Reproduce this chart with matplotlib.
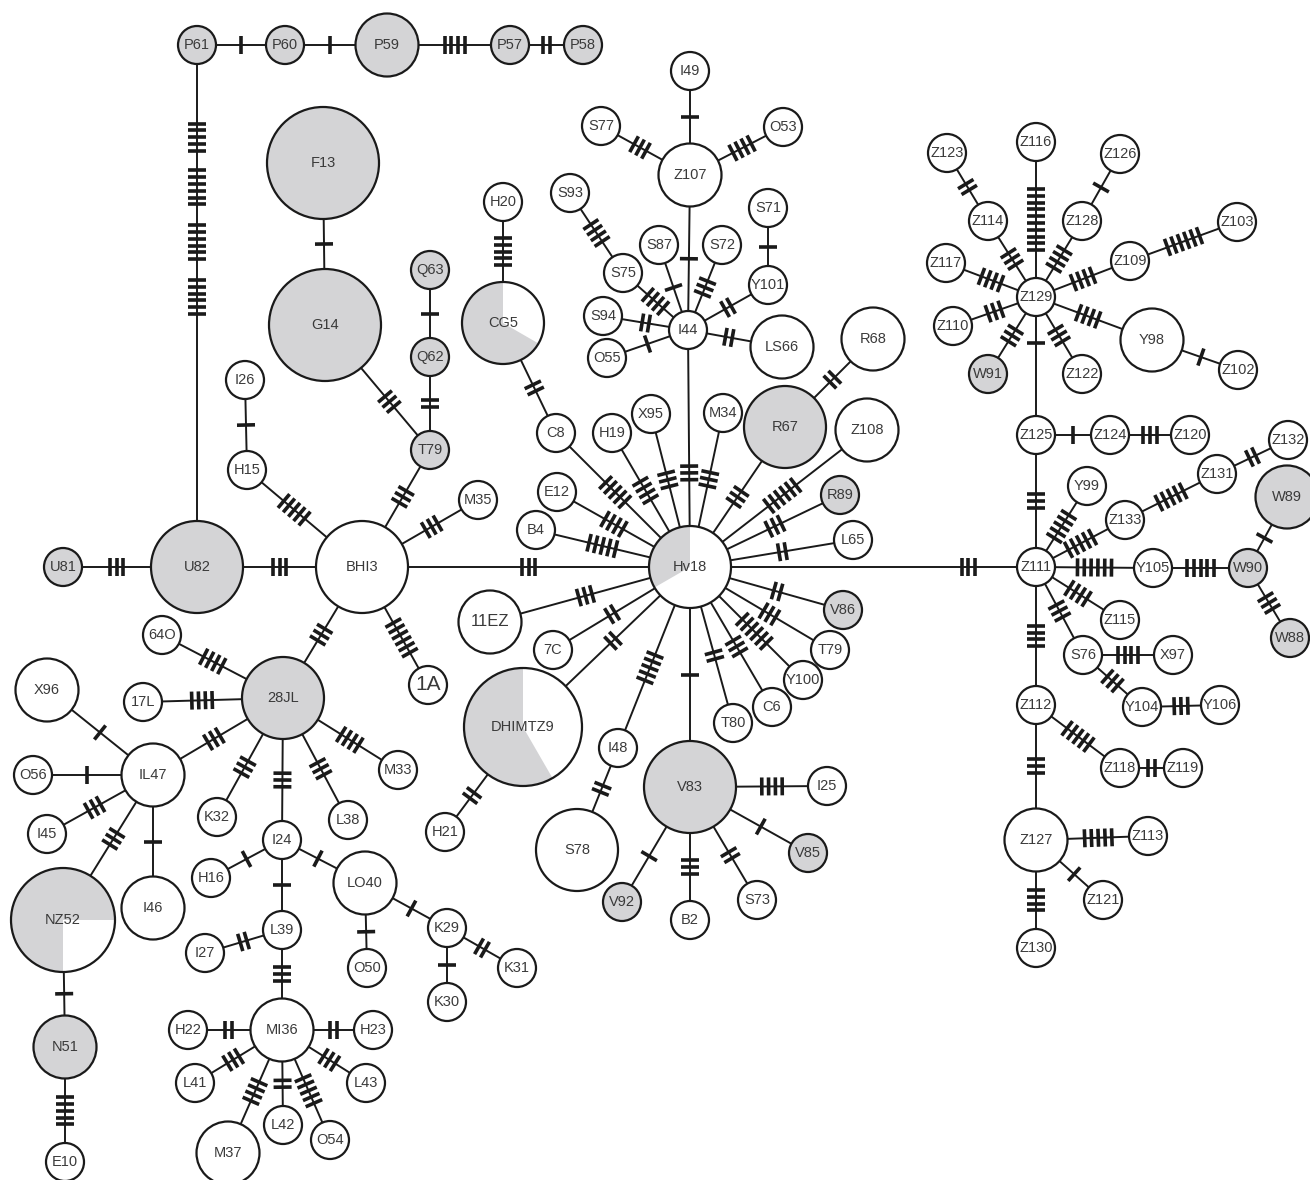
import numpy as np
import matplotlib
matplotlib.use("Agg")
import matplotlib.pyplot as plt
from matplotlib.patches import Circle, Wedge

# haplotype labels and display names (two separate haplotypes are both called T79)
labels = {"T79b": "T79"}

# node size class: s / m / l / xl, or an explicit radius
size_class = {
    "P59": "m", "X96": "m", "IL47": "m", "I46": "m", "N51": "m", "LO40": "m",
    "MI36": "m", "M37": "m", "11EZ": "m", "Z107": "m", "LS66": "m", "R68": "m",
    "Z108": "m", "Y98": "m", "Z127": "m", "W89": "m",
    "CG5": "l", "R67": "l", "28JL": "l", "Hv18": "l", "S78": "l",
    "BHI3": "xl", "U82": "xl", "V83": "xl",
    "NZ52": 52, "DHIMTZ9": 59, "F13": 56, "G14": 56,
}
radius_of = {"s": 19, "m": 31.5, "l": 41, "xl": 46}

# grey share of each haplotype: (share, start angle in degrees)
grey_share = {
    "P61": (1, 0), "P60": (1, 0), "P59": (1, 0), "P57": (1, 0), "P58": (1, 0),
    "F13": (1, 0), "G14": (1, 0), "Q63": (1, 0), "Q62": (1, 0), "T79": (1, 0),
    "U81": (1, 0), "U82": (1, 0), "28JL": (1, 0), "N51": (1, 0),
    "R67": (1, 0), "R89": (1, 0), "V86": (1, 0), "V83": (1, 0), "V85": (1, 0),
    "V92": (1, 0), "W91": (1, 0), "W89": (1, 0), "W90": (1, 0), "W88": (1, 0),
    "Hv18": (1 / 3, 90), "CG5": (2 / 3, 90), "DHIMTZ9": (7 / 12, 90),
    "NZ52": (3 / 4, 0),
}

# network layout (pixel positions, y downwards)
pos = {
    "P61": (197, 45), "P60": (285, 45), "P59": (387, 45), "P57": (510, 45), "P58": (583, 45),
    "F13": (323, 163), "G14": (325, 325), "Q63": (430, 270), "Q62": (430, 357),
    "T79": (430, 450), "I26": (245, 380), "H15": (247, 470), "BHI3": (362, 567),
    "U82": (197, 567), "U81": (63, 567), "M35": (478, 500), "1A": (428, 685),
    "28JL": (283, 698), "64O": (162, 635), "17L": (143, 702), "IL47": (153, 775),
    "X96": (47, 690), "O56": (33, 775), "I45": (47, 834), "I46": (153, 908),
    "NZ52": (63, 920), "N51": (65, 1047), "E10": (65, 1162),
    "K32": (217, 817), "I24": (282, 840), "L38": (348, 820), "M33": (398, 770),
    "H16": (211, 878), "LO40": (365, 883), "L39": (282, 930), "O50": (367, 968),
    "K29": (447, 928), "K30": (447, 1002), "K31": (517, 968), "I27": (205, 953),
    "MI36": (282, 1030), "H22": (188, 1030), "H23": (373, 1030), "L41": (195, 1083),
    "M37": (228, 1153), "L42": (283, 1125), "O54": (330, 1140), "L43": (366, 1083),
    "Hv18": (690, 567), "CG5": (503, 323), "DHIMTZ9": (523, 727), "H20": (503, 202),
    "C8": (556, 433), "H19": (612, 433), "X95": (651, 414), "I44": (688, 330),
    "M34": (723, 413), "R67": (785, 427), "R68": (873, 339), "Z108": (867, 430),
    "R89": (840, 495), "L65": (853, 540), "V86": (843, 610), "T79b": (830, 650),
    "Y100": (803, 680), "C6": (772, 707), "T80": (733, 723), "V83": (690, 787),
    "I48": (618, 748), "S78": (577, 850), "H21": (445, 832), "7C": (553, 650),
    "11EZ": (490, 622), "B4": (536, 530), "E12": (557, 492),
    "I25": (827, 786), "V85": (808, 853), "S73": (757, 900), "B2": (690, 920),
    "V92": (622, 902),
    "Z107": (690, 175), "I49": (690, 71), "S77": (601, 126), "O53": (783, 127),
    "S93": (570, 193), "S75": (623, 273), "S87": (659, 245), "S72": (722, 245),
    "S71": (768, 208), "Y101": (768, 285), "S94": (603, 316), "O55": (607, 358),
    "LS66": (782, 347),
    "Z129": (1036, 297), "Z116": (1036, 142), "Z123": (947, 153), "Z114": (988, 221),
    "Z126": (1120, 154), "Z128": (1082, 221), "Z103": (1237, 222), "Z109": (1130, 261),
    "Z117": (946, 263), "Z110": (953, 326), "W91": (988, 374), "Z122": (1082, 374),
    "Y98": (1152, 340), "Z102": (1238, 370), "Z125": (1036, 435), "Z124": (1110, 435),
    "Z120": (1190, 435), "Z111": (1036, 567), "Y99": (1087, 486), "Z133": (1125, 520),
    "Z131": (1217, 474), "Z132": (1288, 440), "Y105": (1153, 568), "W90": (1248, 568),
    "W89": (1287, 497), "W88": (1290, 638), "Z115": (1120, 620), "S76": (1083, 655),
    "X97": (1173, 655), "Y104": (1142, 707), "Y106": (1220, 705), "Z112": (1036, 705),
    "Z118": (1120, 768), "Z119": (1183, 768), "Z127": (1036, 840), "Z113": (1148, 836),
    "Z121": (1103, 900), "Z130": (1036, 948),
}

# links between haplotypes with number of mutational steps
edges = [
    ("P61", "P60", 1), ("P60", "P59", 1), ("P59", "P57", 4), ("P57", "P58", 2),
    ("F13", "G14", 1), ("G14", "T79", 3), ("Q63", "Q62", 1), ("Q62", "T79", 2),
    ("T79", "BHI3", 3), ("I26", "H15", 1), ("H15", "BHI3", 5), ("U81", "U82", 3),
    ("U82", "BHI3", 3), ("BHI3", "M35", 3), ("BHI3", "1A", 6), ("BHI3", "Hv18", 3),
    ("BHI3", "28JL", 3), ("64O", "28JL", 4), ("17L", "28JL", 4), ("28JL", "IL47", 3),
    ("X96", "IL47", 1), ("O56", "IL47", 1), ("I45", "IL47", 3), ("IL47", "NZ52", 3),
    ("IL47", "I46", 1), ("NZ52", "N51", 1), ("N51", "E10", 5),
    ("28JL", "K32", 3), ("28JL", "I24", 3), ("28JL", "L38", 3), ("28JL", "M33", 4),
    ("I24", "H16", 1), ("I24", "LO40", 1), ("I24", "L39", 1), ("LO40", "O50", 1),
    ("LO40", "K29", 1), ("K29", "K30", 1), ("K29", "K31", 2), ("L39", "I27", 2),
    ("L39", "MI36", 3), ("MI36", "H22", 2), ("MI36", "H23", 2), ("MI36", "L41", 3),
    ("MI36", "M37", 4), ("MI36", "L42", 2), ("MI36", "O54", 5), ("MI36", "L43", 3),
    ("H20", "CG5", 5), ("CG5", "C8", 2), ("C8", "Hv18", 5), ("H19", "Hv18", 4),
    ("X95", "Hv18", 3), ("Hv18", "I44", 3), ("M34", "Hv18", 3), ("R67", "Hv18", 3),
    ("R67", "R68", 2), ("Z108", "Hv18", 6), ("R89", "Hv18", 3), ("L65", "Hv18", 2),
    ("V86", "Hv18", 2), ("T79b", "Hv18", 3), ("Y100", "Hv18", 6), ("C6", "Hv18", 3),
    ("T80", "Hv18", 2), ("Hv18", "V83", 1), ("I48", "Hv18", 5), ("I48", "S78", 2),
    ("DHIMTZ9", "Hv18", 2), ("DHIMTZ9", "H21", 2), ("7C", "Hv18", 2),
    ("11EZ", "Hv18", 3), ("B4", "Hv18", 5), ("E12", "Hv18", 4),
    ("V83", "I25", 4), ("V83", "V85", 1), ("V83", "S73", 2), ("V83", "B2", 3),
    ("V83", "V92", 1),
    ("I44", "Z107", 1), ("Z107", "I49", 1), ("Z107", "S77", 3), ("Z107", "O53", 4),
    ("S93", "S75", 4), ("S75", "I44", 4), ("S87", "I44", 1), ("S72", "I44", 3),
    ("S71", "Y101", 1), ("Y101", "I44", 2), ("S94", "I44", 2), ("O55", "I44", 1),
    ("I44", "LS66", 2),
    ("Z129", "Z116", 10), ("Z123", "Z114", 2), ("Z114", "Z129", 3), ("Z126", "Z128", 1),
    ("Z128", "Z129", 4), ("Z103", "Z109", 6), ("Z109", "Z129", 4), ("Z117", "Z129", 4),
    ("Z110", "Z129", 3), ("W91", "Z129", 3), ("Z122", "Z129", 3), ("Z129", "Y98", 4),
    ("Y98", "Z102", 1), ("Z129", "Z125", 1), ("Z125", "Z124", 1), ("Z124", "Z120", 3),
    ("Z125", "Z111", 3), ("Hv18", "Z111", 3), ("Y99", "Z111", 5), ("Z133", "Z111", 5),
    ("Z133", "Z131", 5), ("Z131", "Z132", 2), ("Z111", "Y105", 6), ("Y105", "W90", 5),
    ("W90", "W89", 1), ("W90", "W88", 3), ("Z111", "Z115", 4), ("Z111", "S76", 3),
    ("S76", "X97", 4), ("S76", "Y104", 3), ("Y104", "Y106", 3), ("Z111", "Z112", 4),
    ("Z112", "Z118", 5), ("Z118", "Z119", 2), ("Z112", "Z127", 3), ("Z127", "Z113", 5),
    ("Z127", "Z121", 1), ("Z127", "Z130", 4),
    ("P61", "U82", 0),
]

# where along the visible link the tick block sits (default middle)
tick_pos = {("Hv18", "Z111"): 0.83, ("Hv18", "I44"): 0.3, ("Z129", "Z125"): 0.27}
# links whose steps are drawn in several blocks: (count, position)
tick_groups = {("P61", "U82"): [(5, 0.16), (6, 0.27), (6, 0.39), (6, 0.51)]}

big_font = {"1A": 15, "11EZ": 12}

GREY = "#d4d4d6"
INK = "#1a1a1a"
TEXT = "#3a3a3a"
TICK_GAP = 6.8
TICK_HALF = 9.0


def radius(name):
    c = size_class.get(name, "s")
    return radius_of[c] if isinstance(c, str) else c


fig = plt.figure(figsize=(13.1, 11.8), dpi=100)
ax = fig.add_axes([0, 0, 1, 1])
ax.set_xlim(0, 1310)
ax.set_ylim(1180, 0)
ax.set_aspect("equal")
ax.axis("off")


def draw_ticks(p, u, n, lw=2.6):
    nrm = np.array([-u[1], u[0]])
    for i in range(n):
        c = p + u * (i - (n - 1) / 2) * TICK_GAP
        a, b = c - nrm * TICK_HALF, c + nrm * TICK_HALF
        ax.plot([a[0], b[0]], [a[1], b[1]], color=INK, lw=lw,
                solid_capstyle="butt", zorder=2)


for a, b, n in edges:
    pa, pb = np.array(pos[a], float), np.array(pos[b], float)
    ax.plot([pa[0], pb[0]], [pa[1], pb[1]], color=INK, lw=1.4, zorder=1)
    d = np.hypot(*(pb - pa))
    u = (pb - pa) / d
    start = pa + u * radius(a)
    seg = d - radius(a) - radius(b)
    groups = tick_groups.get((a, b), [(n, tick_pos.get((a, b), 0.5))])
    for cnt, f in groups:
        if cnt:
            draw_ticks(start + u * seg * f, u, cnt)

# haplotype circles, with the grey share drawn as a wedge
for name, (x, y) in pos.items():
    r = radius(name)
    share, start = grey_share.get(name, (0, 0))
    ax.add_patch(Circle((x, y), r, facecolor="white", edgecolor="none", zorder=3))
    if share >= 1:
        ax.add_patch(Circle((x, y), r, facecolor=GREY, edgecolor="none", zorder=4))
    elif share > 0:
        # y axis is inverted, so angles are mirrored
        t1, t2 = -(start + share * 360), -start
        ax.add_patch(Wedge((x, y), r, t1, t2, facecolor=GREY, edgecolor="none", zorder=4))
    ax.add_patch(Circle((x, y), r, facecolor="none", edgecolor=INK, lw=1.6, zorder=5))
    ax.text(x, y, labels.get(name, name), ha="center", va="center",
            fontsize=big_font.get(name, 10.5), color=TEXT,
            family=["Liberation Sans", "DejaVu Sans"], zorder=6)

fig.savefig("out.png", dpi=100, facecolor="white")
